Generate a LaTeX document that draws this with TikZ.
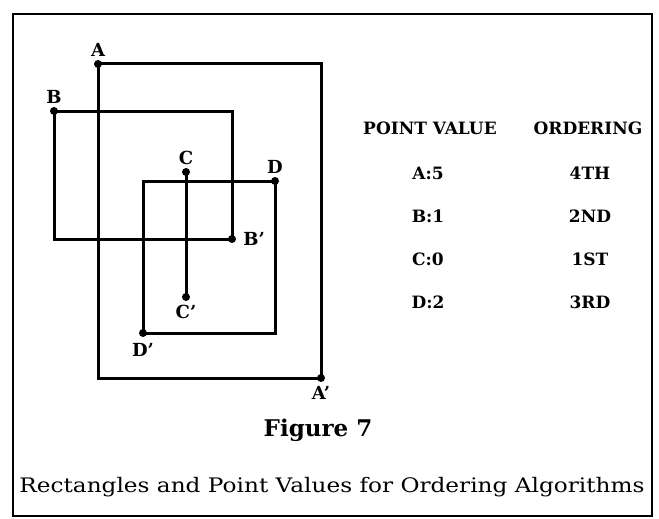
\documentclass[tikz,border=0pt]{standalone}
\usepackage{fontspec}
\setmainfont{DejaVu Serif}
\newfontfamily\wideserif[FakeStretch=1.16]{DejaVu Serif}
\usetikzlibrary{positioning}
\tikzset{
  frame/.style={line width=2pt},
  rect/.style={line width=3pt, line join=miter},
  corner/.style={circle, fill=black, inner sep=0pt, minimum size=8pt},
  lbl/.style={font=\bfseries\fontsize{18}{20}\selectfont, inner sep=1pt},
  tab/.style={font=\bfseries\fontsize{17}{19}\selectfont},
  capt/.style={font=\wideserif\fontsize{20}{24}\selectfont},
}
\begin{document}
\begin{tikzpicture}[x=1pt, y=-1pt]
  \useasboundingbox (0,0) rectangle (659,519);
  \draw[frame] (13,14) rectangle (652,516);
  % corner points of the rectangles
  \node[corner] (A)  at (98,64)   {};
  \node[corner] (Ap) at (321,378) {};
  \node[corner] (B)  at (54,111)  {};
  \node[corner] (Bp) at (232,239) {};
  \node[corner] (C)  at (186,172) {};
  \node[corner] (Cp) at (186,297) {};
  \node[corner] (D)  at (275,181) {};
  \node[corner] (Dp) at (143,333) {};
  \draw[rect] (A.center) rectangle (Ap.center);
  \draw[rect] (B.center) rectangle (Bp.center);
  \draw[rect] (D.center) rectangle (Dp.center);
  \draw[rect] (C.center) -- (Cp.center);
  % point labels
  \node[lbl, above=2pt of A]  (lA)  {A};
  \node[lbl, below=3pt of Ap] (lAp) {A’};
  \node[lbl, above=2pt of B]  (lB)  {B};
  \node[lbl, right=6pt of Bp] (lBp) {B’};
  \node[lbl, above=2pt of C]  (lC)  {C};
  \node[lbl, below=3pt of Cp] (lCp) {C’};
  \node[lbl, above=2pt of D]  (lD)  {D};
  \node[lbl, below=5pt of Dp] (lDp) {D’};
  % table
  \node[tab] (hv) at (430,128) {POINT VALUE};
  \node[tab] (ho) at (588,128) {ORDERING};
  \foreach \v/\o [count=\i] in {A:5/4TH, B:1/2ND, C:0/1ST, D:2/3RD}
    \node[tab] (v\i) at (428,{173+(\i-1)*43}) {\v}
      node[tab] (o\i) at (590,{173+(\i-1)*43}) {\o};
  % caption
  \node[font=\bfseries\fontsize{23}{27}\selectfont] (fig) at (318,430) {Figure 7};
  \node[capt] (cap) at (332,487) {Rectangles and Point Values for Ordering Algorithms};
\end{tikzpicture}
\end{document}
